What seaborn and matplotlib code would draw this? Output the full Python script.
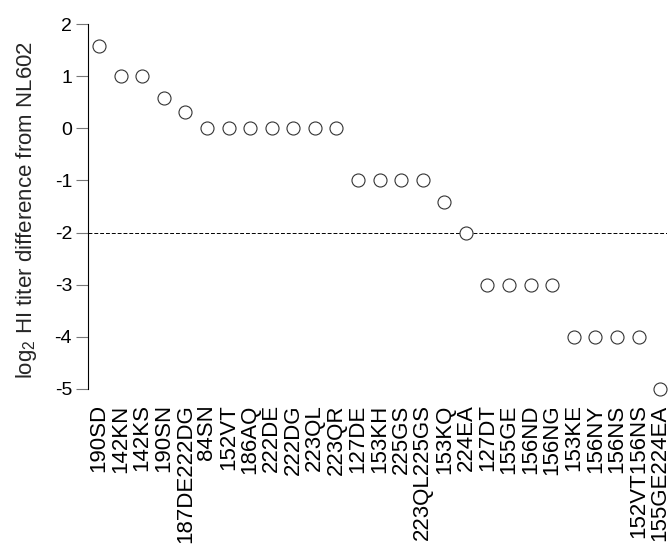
import matplotlib
matplotlib.use("Agg")
import matplotlib.pyplot as plt
import seaborn as sns
import pandas as pd

mutations = ["190SD", "142KN", "142KS", "190SN", "187DE222DG", "84SN", "152VT",
             "186AQ", "222DE", "222DG", "223QL", "223QR", "127DE", "153KH",
             "225GS", "223QL225GS", "153KQ", "224EA", "127DT", "155GE", "156ND",
             "156NG", "153KE", "156NY", "156NS", "152VT156NS", "155GE224EA"]
titer_diff = [1.58, 1.0, 1.0, 0.58, 0.32, 0, 0, 0, 0, 0, 0, 0, -1, -1, -1, -1,
              -1.42, -2, -3, -3, -3, -3, -4, -4, -4, -4, -5]
threshold = -2

df = pd.DataFrame({"mutation": mutations, "diff": titer_diff})

sns.set_style("white")
plt.rcParams["font.family"] = ["Liberation Sans", "DejaVu Sans"]
plt.rcParams["mathtext.default"] = "regular"
plt.rcParams["axes.unicode_minus"] = False

fig = plt.figure(figsize=(6.72, 5.53), dpi=100)
ax = fig.add_axes([0.131, 0.2966, 0.8616, 0.66])

sns.scatterplot(data=df, x="mutation", y="diff", ax=ax, s=88,
                facecolor="white", edgecolor="#333333", linewidth=0.8,
                clip_on=False, zorder=3)
ax.axhline(threshold, color="black", lw=0.7, ls=(0, (4, 2)), zorder=1)

ax.set_xlim(-0.51, 26.32)
ax.set_ylim(-5, 2)
ax.set_yticks(range(-5, 3))
ax.set_xlabel("")
ax.set_ylabel(r"$\mathregular{log_2}$ HI titer difference from NL602",
              fontsize=16)
ax.yaxis.set_label_coords(-0.085, 0.49)

for side in ["top", "right", "bottom"]:
    ax.spines[side].set_visible(False)
ax.spines["left"].set_color("black")
ax.spines["left"].set_linewidth(0.8)

ax.tick_params(axis="y", left=True, length=8.5, width=0.8, pad=3,
               labelsize=14, color="#777777", labelcolor="black")
ax.tick_params(axis="x", bottom=False, length=0, pad=11, labelsize=16,
               labelrotation=90, colors="black")
for lbl in ax.get_xticklabels():
    lbl.set_va("top")

fig.savefig("out.png", dpi=100)
